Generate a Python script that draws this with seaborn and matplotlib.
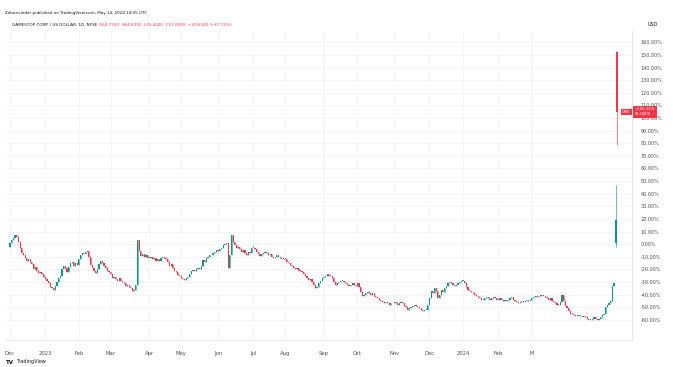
#!/usr/bin/env python3
# -*- coding: utf-8 -*-
"""
GME daily candles, percentage scale (TradingView style snapshot)
"""

import numpy as np
import pandas as pd
import matplotlib
matplotlib.use("Agg")
import matplotlib.pyplot as plt
from matplotlib.colors import to_rgba
import seaborn as sns

# Daily closes in % vs. first bar, one list per month
dec_2022 = [0.8, 3, 5, 7, 6, 2, -3, -7, -9, -11, -13, -12, -14, -16, -20, -18, -21, -23, -22, -24, -26]
jan_2023 = [-28, -29, -31, -34, -35, -36.5, -33, -30, -27, -25, -20, -17, -19, -22, -18, -15, -14, -17, -15, -16.7]
feb_2023 = [-12, -9, -7, -8, -6, -5.5, -10, -16.7, -19, -21, -23, -20, -16, -13.5, -15, -17, -19, -21.4, -22]
mar_2023 = [-24, -27, -26, -28, -29, -27, -29, -30, -31, -33, -32, -34, -35, -37, -36, -32.5, 3, -5.5, -9.5, -8, -10, -9, -11]
apr_2023 = [-11, -10, -12, -11, -13.5, -12, -13, -11, -10, -11, -12, -14, -17.5, -16, -19, -21, -22, -24.6, -25]
may_2023 = [-27, -28, -28.6, -27, -26, -24, -21, -20.6, -21, -20, -19, -19.5, -17, -12.7, -14, -11, -10, -8.7, -9, -7, -6, -5]
jun_2023 = [-5.5, -4, -3, -1, 0, 1, -19, -9, 7, 2, -1, -3, -2, -4, -6, -5, -7, -8.7, -6, -7, -3]
jul_2023 = [-3, -4, -6, -8, -9.5, -8, -7, -6, -7, -9, -8, -10, -11, -10, -9, -10, -11, -12, -11]
aug_2023 = [-12, -14, -15, -16.7, -17, -19, -20, -19, -21, -21.4, -22, -24, -25, -27, -28.6, -28, -30, -32, -35, -34, -31, -29, -27]
sep_2023 = [-26, -25, -24, -25, -25.4, -27, -30, -32.5, -31, -30, -29, -29, -30, -31, -32, -33, -32, -31, -32, -33]
oct_2023 = [-31, -34, -38, -41, -40, -39, -38, -39, -40, -39, -41, -42, -43, -44, -45, -46, -47, -46, -47, -48, -47, -47]
nov_2023 = [-46, -47, -48, -47, -46, -47, -49, -50, -52, -51, -50, -49, -48, -49, -50, -51, -52, -53, -52, -52, -48]
dec_2023 = [-43, -37, -39, -35, -37, -43, -40, -36.5, -38, -35, -33, -31, -30, -31, -32, -33, -32.5, -31, -30, -29]
jan_2024 = [-29, -31, -34, -36.5, -37, -38, -39, -40, -41, -42, -43, -44, -44, -43, -42, -43, -44, -43, -42, -43, -44]
feb_2024 = [-44, -43, -44, -45, -44, -45, -44, -43, -42, -44, -45, -46, -47, -46, -45, -46, -45, -44, -45, -44]
mar_2024 = [-43, -42, -41, -42, -41, -40, -41, -41, -42, -43, -44, -43, -45, -46, -47, -48, -48.4, -46, -40.5, -45]
apr_2024 = [-49, -51, -53, -55, -55, -56, -57, -57, -56, -57, -58, -57, -58, -59, -60, -60, -59, -58, -59, -60, -59, -58]
may_2024 = [-56, -55, -50, -48.4, -47, -45, -33, -31]

months = [dec_2022, jan_2023, feb_2023, mar_2023, apr_2023, may_2023, jun_2023, jul_2023,
          aug_2023, sep_2023, oct_2023, nov_2023, dec_2023, jan_2024, feb_2024, mar_2024,
          apr_2024, may_2024]
month_labels = ["Dec", "2023", "Feb", "Mar", "Apr", "May", "Jun", "Jul", "Aug", "Sep",
                "Oct", "Nov", "Dec", "2024", "Feb", "M", "", ""]
first_open = -2

# The last two sessions (13 and 14 May 2024): open, high, low, close
spike_open = [1, 152]
spike_high = [47, 153]
spike_low = [-2, 79]
spike_close = [19, 105]

y_ticks = list(range(-60, 170, 10))

UP = "#089981"
DOWN = "#f23645"
GRID = "#f0f3fa"
TEXT = "#131722"
AXIS_TEXT = "#4a4e59"


def build_frame():
    closes = [v for m in months for v in m]
    opens = [first_open] + closes[:-1]
    df = pd.DataFrame({"open": opens, "close": closes})
    df["high"] = df[["open", "close"]].max(axis=1)
    df["low"] = df[["open", "close"]].min(axis=1)
    df["width"] = 0.7
    spikes = pd.DataFrame({"open": spike_open, "high": spike_high,
                           "low": spike_low, "close": spike_close})
    spikes["width"] = 1.1
    df = pd.concat([df, spikes], ignore_index=True)
    df["idx"] = np.arange(len(df))
    df["up"] = df["close"] >= df["open"]
    return df


def draw(df):
    sns.set_theme(style="white")
    plt.rcParams["font.family"] = ["DejaVu Sans"]

    fig = plt.figure(figsize=(6.73, 3.67), dpi=100)
    ax = fig.add_axes([5 / 673, 27 / 367, 627 / 673, 309 / 367])

    body_colors = [to_rgba(UP if u else DOWN) for u in df["up"]]
    wick_colors = [to_rgba(UP if u else DOWN, 0.6) for u in df["up"]]
    # wicks
    ax.vlines(df["idx"], df["low"], df["high"], colors=wick_colors, linewidth=0.8, zorder=2)
    # bodies
    body = (df["close"] - df["open"]).abs().clip(lower=0.6)
    bottom = df[["open", "close"]].min(axis=1)
    ax.bar(df["idx"], body, bottom=bottom, width=df["width"], color=body_colors,
           linewidth=0, zorder=3)

    ax.set_xlim(-3, 370.7)
    ax.set_ylim(-76, 169)

    # month ticks
    starts = np.cumsum([0] + [len(m) for m in months[:-1]])
    ticks = [s for s, lab in zip(starts, month_labels) if lab]
    labels = [lab for lab in month_labels if lab]
    ax.set_xticks(ticks)
    ax.set_xticklabels(labels, fontsize=3.8, color=AXIS_TEXT)

    ax.yaxis.tick_right()
    ax.set_yticks(y_ticks)
    ax.set_yticklabels([f"{v:.2f}%" for v in y_ticks], fontsize=3.5, color=AXIS_TEXT)
    ax.tick_params(axis="both", length=0)
    ax.tick_params(axis="y", pad=6)
    ax.tick_params(axis="x", pad=8)

    ax.grid(True, color=GRID, linewidth=0.6, zorder=0)
    sns.despine(ax=ax, left=True, top=True, right=False, bottom=False)
    for side in ("right", "bottom"):
        ax.spines[side].set_color("#e0e3eb")
        ax.spines[side].set_linewidth(0.6)

    # last price tag
    last = df["close"].iloc[-1]
    ax.text(367.3, last, "GME", fontsize=2.6, color="white", ha="center", va="center",
            bbox=dict(boxstyle="square,pad=0.3", fc=DOWN, ec="none"), zorder=5)
    ax.annotate("+105.35%\n51.0800", xy=(1.0, last), xycoords=("axes fraction", "data"),
                xytext=(2, 0), textcoords="offset points", fontsize=2.8, color="white",
                ha="left", va="center", linespacing=1.3,
                bbox=dict(boxstyle="square,pad=0.4", fc=DOWN, ec="none"),
                annotation_clip=False, zorder=5)

    # header / footer texts
    fig.text(5 / 673, 1 - 13 / 367,
             "Zoltanvindar published on TradingView.com, May 14, 2024 14:05 UTC",
             fontsize=3.0, color=TEXT, va="center")
    fig.text(12 / 673, 1 - 24.5 / 367, "GAMESTOP CORP. / US DOLLAR, 1D, NYSE",
             fontsize=3.0, color=TEXT, va="center")
    fig.text(99 / 673, 1 - 24.5 / 367,
             "O64.7550  H64.8350  L45.4000  C51.0800  +20.6300 (+67.75%)",
             fontsize=3.0, color=DOWN, va="center")
    fig.text(648 / 673, 1 - 25 / 367, "USD", fontsize=3.5, color=TEXT, va="center")
    fig.text(6 / 673, 1 - 362 / 367, "TV", fontsize=4, color=TEXT, va="center",
             fontweight="bold")
    fig.text(16 / 673, 1 - 362 / 367, "TradingView", fontsize=3.5, color=TEXT, va="center")

    fig.savefig("out.png", dpi=100)


def main():
    df = build_frame()
    print(f"Bars: {len(df)}")
    draw(df)


if __name__ == "__main__":
    main()
